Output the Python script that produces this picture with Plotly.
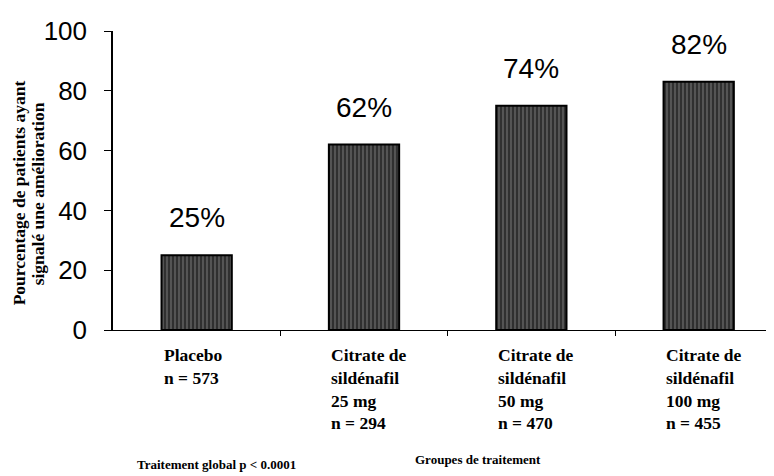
import plotly.graph_objects as go

# Data
groups = ["Placebo", "Citrate de sildénafil 25 mg", "Citrate de sildénafil 50 mg", "Citrate de sildénafil 100 mg"]
group_lines = ["Placebo<br>n = 573", "Citrate de<br>sildénafil<br>25 mg", "Citrate de<br>sildénafil<br>50 mg", "Citrate de<br>sildénafil<br>100 mg"]
n_labels = ["", "n = 294", "n = 470", "n = 455"]
values = [25, 62, 75, 83]
pct_labels = ["25%", "62%", "74%", "82%"]
y_ticks = [0, 20, 40, 60, 80, 100]
y_title_lines = ["Pourcentage de patients ayant", "signalé une amélioration"]

xpos = list(range(len(groups)))
bar_w = 0.42

fig = go.Figure()
fig.add_trace(go.Bar(
    x=xpos, y=values, width=bar_w,
    marker=dict(color="#333333",
                line=dict(color="black", width=2),
                pattern=dict(shape="|", fgcolor="#a8a8a8", bgcolor="#303030", size=4, solidity=0.3)),
    hoverinfo="skip", showlegend=False,
))

serif = "Liberation Serif, Times New Roman, serif"
sans = "Liberation Sans, Arial, sans-serif"

for i, (v, t) in enumerate(zip(values, pct_labels)):
    fig.add_annotation(x=i, y=v, xref="x", yref="y", text=t, showarrow=False,
                       yanchor="bottom", yshift=20, font=dict(family=sans, size=28, color="black"))

for i, (g, n) in enumerate(zip(group_lines, n_labels)):
    fig.add_annotation(x=i - bar_w / 2, y=-0.045, xref="x", yref="paper", text="<b>" + g + "</b>",
                       showarrow=False, xanchor="left", yanchor="top", align="left",
                       font=dict(family=serif, size=17.5, color="black"))
    if n:
        fig.add_annotation(x=i - bar_w / 2, y=-0.27, xref="x", yref="paper", text="<b>" + n + "</b>",
                           showarrow=False, xanchor="left", yanchor="top", align="left",
                           font=dict(family=serif, size=17.5, color="black"))

for xp, line in zip([-0.1422, -0.1135], y_title_lines):
    fig.add_annotation(x=xp, y=0.457, xref="paper", yref="paper", textangle=-90,
                       xanchor="center", yanchor="middle",
                       text="<b>" + line + "</b>", showarrow=False,
                       font=dict(family=serif, size=17.5, color="black"))

fig.add_annotation(x=0.033, y=-0.451, xref="paper", yref="paper", xanchor="left", yanchor="middle",
                   text="<b>Traitement global p &lt; 0.0001</b>", showarrow=False,
                   font=dict(family=serif, size=13, color="black"))
fig.add_annotation(x=0.454, y=-0.434, xref="paper", yref="paper", xanchor="left", yanchor="middle",
                   text="<b>Groupes de traitement</b>", showarrow=False,
                   font=dict(family=serif, size=13, color="black"))

fig.update_layout(
    width=774, height=476,
    margin=dict(l=105, r=8, t=18, b=154),
    paper_bgcolor="white", plot_bgcolor="white",
    xaxis=dict(range=[-0.5, 3.45], tickvals=[0.5, 1.5, 2.5], ticktext=["", "", ""],
               showline=True, linecolor="black", linewidth=1.2, ticks="outside", ticklen=5,
               tickcolor="black", showgrid=False, zeroline=False, fixedrange=True),
    yaxis=dict(range=[0, 100], tickvals=y_ticks, showline=True, linecolor="black", linewidth=1.5,
               ticks="outside", ticklen=7, tickcolor="black", showgrid=False, zeroline=False,
               ticklabelstandoff=12, tickfont=dict(family=sans, size=26, color="black")),
)

fig.write_html("out.html")
